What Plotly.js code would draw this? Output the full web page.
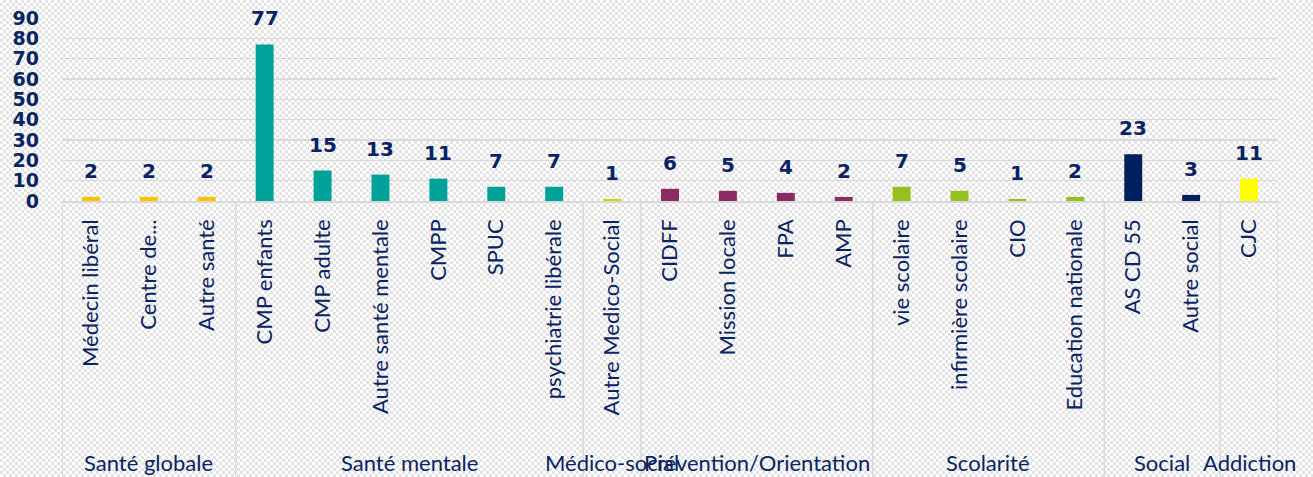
<!DOCTYPE html>
<html>
<head>
<meta charset="utf-8">
<script src="https://cdn.plot.ly/plotly-3.0.1.min.js"></script>
<style>
html, body { margin:0; padding:0; }
body {
  width:1313px; height:477px; overflow:hidden;
  background-color:#ffffff;
  background-image:
    linear-gradient(45deg, #e3e3e3 25%, transparent 25%, transparent 75%, #e3e3e3 75%),
    linear-gradient(45deg, #e3e3e3 25%, transparent 25%, transparent 75%, #e3e3e3 75%);
  background-size:6px 6px;
  background-position:0 0, 3px 3px;
}
#chart { width:1313px; height:477px; }
</style>
</head>
<body>
<div id="chart"></div>
<script>
// Data
var categories = ["Médecin libéral","Centre de...","Autre santé",
  "CMP enfants","CMP adulte","Autre santé mentale","CMPP","SPUC","psychiatrie libérale",
  "Autre Medico-Social",
  "CIDFF","Mission locale","FPA","AMP",
  "vie scolaire","infirmière scolaire","CIO","Education nationale",
  "AS CD 55","Autre social",
  "CJC"];
var values = [2,2,2, 77,15,13,11,7,7, 1, 6,5,4,2, 7,5,1,2, 23,3, 11];
var groups = ["Santé globale","Santé mentale","Médico-social","Prévention/Orientation","Scolarité","Social","Addiction"];
var groupSizes = [3,6,1,4,4,2,1];
var groupColors = ["#FFC000","#00A29A","#CCD600","#8C2A63","#95C11F","#002060","#FFFF00"];
var yTicks = [0,10,20,30,40,50,60,70,80,90];

(function () {
  var navy = '#0a2463';
  var labelFont = 'Lato';
  var colors = [];
  var shapes = [];
  var annotations = [];
  var start = 0;
  var H = 477, topPx = 18, bottomPx = 201;
  var plotH = bottomPx - topPx;
  var sepBottom = (bottomPx - H) / plotH;
  var labelY = (bottomPx - 462) / plotH;
  shapes.push({type:'line', xref:'x', yref:'paper', x0:-0.5, x1:-0.5, y0:0, y1:sepBottom,
    line:{color:'#d9d9d9', width:1.5}});
  for (var g = 0; g < groups.length; g++) {
    for (var k = 0; k < groupSizes[g]; k++) colors.push(groupColors[g]);
    var end = start + groupSizes[g];
    shapes.push({type:'line', xref:'x', yref:'paper', x0:end-0.5, x1:end-0.5, y0:0, y1:sepBottom,
      line:{color:'#d9d9d9', width:1.5}});
    annotations.push({xref:'x', yref:'paper', x:(start+end-1)/2, y:labelY, text:groups[g],
      showarrow:false, xanchor:'center', yanchor:'middle',
      font:{family:labelFont, size:22, color:navy}});
    start = end;
  }
  // value labels above bars
  for (var i = 0; i < categories.length; i++) {
    annotations.push({xref:'x', yref:'y', x:categories[i], y:values[i], text:String(values[i]),
      showarrow:false, xanchor:'center', yanchor:'bottom', yshift:12,
      font:{family:'DejaVu Sans', size:20, color:navy, weight:'bold'}});
  }

  var trace = {
    type:'bar', x:categories, y:values,
    marker:{color:colors},
    hoverinfo:'none'
  };

  var layout = {
    width:1313, height:477,
    margin:{l:62, r:35, t:topPx, b:H-bottomPx},
    paper_bgcolor:'rgba(0,0,0,0)', plot_bgcolor:'rgba(0,0,0,0)',
    showlegend:false, bargap:0.69,
    xaxis:{type:'category', range:[-0.5, categories.length-0.5], tickangle:-90,
      showgrid:false, showline:true, linecolor:'#d9d9d9', linewidth:1.5,
      ticks:'', ticklabelstandoff:8, automargin:false,
      tickfont:{family:labelFont, size:22, color:navy}},
    yaxis:{range:[0,90], tickvals:yTicks, ticktext:yTicks.map(String),
      showgrid:true, gridcolor:'#d9d9d9', gridwidth:1.5, zeroline:false, showline:false,
      ticks:'', ticklabelstandoff:22, automargin:false,
      tickfont:{family:'DejaVu Sans', size:19, color:navy, weight:'bold'}},
    shapes:shapes, annotations:annotations
  };
  Plotly.newPlot('chart', [trace], layout, {displayModeBar:false, staticPlot:true});
})();
</script>
</body>
</html>
